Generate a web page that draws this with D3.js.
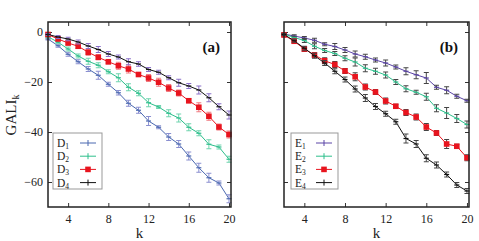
<!DOCTYPE html>
<html>
<head>
<meta charset="utf-8">
<script src="https://cdn.jsdelivr.net/npm/d3@7"></script>
<style>
body { margin: 0; background: #fff; }
text { font-family: "Liberation Serif", "DejaVu Serif", serif; }
</style>
</head>
<body>
<svg id="chart" width="479" height="241"></svg>
<script>
const kValues = d3.range(2, 21)

const D1 = [-2.8, -5.5, -8.9, -11.9, -14.8, -17.3, -20.9, -24.3, -28.5, -31.3, -35.6, -38.1, -42, -44.8, -49.6, -54.3, -58.3, -60.4, -66.7]
const D2 = [-1.9, -4.1, -6.8, -9.6, -11.7, -13.3, -15.9, -18.3, -22.1, -24.5, -28.3, -30, -32.5, -34.4, -38.1, -40.5, -44.9, -46, -50.9]
const D3 = [-1, -2.8, -4.4, -5.7, -8.1, -10.1, -11.9, -13.5, -14.8, -17, -18.4, -20.1, -22.4, -24.4, -27.5, -30.1, -33.7, -38, -41]
const D4 = [-1, -2, -2.8, -4, -5.6, -7, -8.8, -10, -11.9, -12.8, -15, -16.1, -18.3, -20.3, -21.6, -23.2, -26.3, -29.9, -33.2]

const D1err = [0.4, 0.6, 0.8, 0.8, 1, 1.6, 0.8, 0.9, 1.2, 1.2, 1.8, 0.6, 1.4, 1.4, 1.6, 1.8, 1.8, 0.8, 1.6]
const D2err = [0.4, 0.6, 0.8, 0.8, 1.2, 1, 0.8, 1.6, 1.4, 1, 1.6, 0.6, 1.4, 1.6, 1.4, 1, 1.8, 0.8, 1.2]
const D3err = [0.5, 0.6, 0.8, 0.9, 1.2, 1, 0.9, 1.4, 1.6, 0.8, 1.4, 1.6, 1.4, 1.2, 0.8, 1.8, 1.6, 1.2, 1.4]
const D4err = [0.4, 0.6, 0.7, 0.8, 1, 1.2, 1, 0.8, 1.2, 0.9, 0.8, 0.8, 0.8, 1.4, 1, 1.6, 1.6, 1.2, 1.6]

const E1 = [-0.8, -1.6, -2.4, -3.3, -4.9, -5.8, -7.2, -8.8, -9.9, -11.2, -12.4, -14, -15.7, -17.1, -18.4, -22.1, -23.3, -25.7, -27.5]
const E2 = [-0.8, -2.2, -3.4, -5.7, -7.4, -8.6, -10.5, -12, -14.5, -15.7, -17.2, -20, -22.7, -24.1, -25.9, -30.5, -32.4, -34.6, -37]
const E3 = [-1.2, -3.7, -6.8, -9.2, -11.5, -13, -15.6, -17.9, -22, -24, -27.6, -29.7, -32.2, -34, -38, -40.4, -44.8, -45.7, -50.3]
const E4 = [-1, -3.5, -6.5, -9.5, -12.4, -15.7, -19, -22.8, -26.4, -29.8, -32.7, -35.9, -42.6, -44.8, -50.5, -53.2, -57, -61.2, -63.6]

const E1err = [0.4, 0.5, 0.6, 0.8, 0.6, 1.2, 1, 1.2, 1, 0.8, 1.2, 0.8, 1.4, 1.6, 2.2, 0.8, 1.4, 0.8, 0.6]
const E2err = [0.4, 0.5, 0.8, 1, 0.8, 0.8, 1, 1.6, 1.4, 1.2, 1.2, 1, 1.2, 0.8, 1.4, 1.4, 2.2, 1.6, 1.4]
const E3err = [0.5, 0.6, 1, 0.9, 1.2, 1.2, 1, 1.6, 1.2, 1, 1.2, 0.8, 1.2, 1.2, 1.4, 1, 1.8, 0.8, 1.2]
const E4err = [0.4, 0.6, 0.8, 1, 1, 1, 1, 1.2, 1.4, 1.2, 1, 1, 1.8, 1.4, 1.4, 1.2, 1, 1, 1]

const xTicks = [4, 8, 12, 16, 20]
const yTicks = [0, -20, -40, -60]

const svg = d3.select("#chart")

const renderPanel = (panel) => {
    const xScale = d3.scaleLinear()
        .domain([2, 20.2])
        .range([panel.left, panel.right])

    const yScale = d3.scaleLinear()
        .domain([-70, 4])
        .range([207, 22])

    const g = svg.append("g")

    // inward ticks on all four sides
    const tick = 4
    g.append("g").attr("transform", `translate(0,${yScale.range()[0]})`)
        .call(d3.axisBottom(xScale).tickValues(xTicks).tickSize(-tick).tickPadding(7).tickFormat(d3.format("d")))
        .call(a => a.select(".domain").remove())
    g.append("g").attr("transform", `translate(0,${yScale.range()[1]})`)
        .call(d3.axisTop(xScale).tickValues(xTicks).tickSize(-tick).tickFormat(""))
        .call(a => a.select(".domain").remove())
    g.append("g").attr("transform", `translate(${panel.left},0)`)
        .call(d3.axisLeft(yScale).tickValues(yTicks).tickSize(-tick).tickPadding(5)
            .tickFormat(panel.yLabels ? d3.format("d") : ""))
        .call(a => a.select(".domain").remove())
    g.append("g").attr("transform", `translate(${panel.right},0)`)
        .call(d3.axisRight(yScale).tickValues(yTicks).tickSize(-tick).tickFormat(""))
        .call(a => a.select(".domain").remove())

    g.selectAll(".tick line").attr("stroke", "#333")
    g.selectAll(".tick text")
        .attr("font-size", 12)
        .attr("fill", "#222")

    const line = d3.line()
        .x((d, i) => xScale(kValues[i]))
        .y(d => yScale(d))

    panel.series.forEach(s => {
        const sg = g.append("g")
        sg.append("path")
            .attr("d", line(s.values))
            .attr("fill", "none")
            .attr("stroke", s.color)
            .attr("stroke-width", 1)

        const bars = sg.selectAll(".err")
            .data(s.values.map((v, i) => ({ k: kValues[i], v: v, e: s.err[i] })))
            .enter()
            .append("g")
        bars.append("line")
            .attr("x1", d => xScale(d.k)).attr("x2", d => xScale(d.k))
            .attr("y1", d => yScale(d.v - d.e)).attr("y2", d => yScale(d.v + d.e))
            .attr("stroke", s.errColor).attr("stroke-width", 1)
        bars.append("line")
            .attr("x1", d => xScale(d.k) - 2.5).attr("x2", d => xScale(d.k) + 2.5)
            .attr("y1", d => yScale(d.v - d.e)).attr("y2", d => yScale(d.v - d.e))
            .attr("stroke", s.errColor).attr("stroke-width", 1)
        bars.append("line")
            .attr("x1", d => xScale(d.k) - 2.5).attr("x2", d => xScale(d.k) + 2.5)
            .attr("y1", d => yScale(d.v + d.e)).attr("y2", d => yScale(d.v + d.e))
            .attr("stroke", s.errColor).attr("stroke-width", 1)

        if (s.square) {
            bars.append("rect")
                .attr("x", d => xScale(d.k) - 2.8)
                .attr("y", d => yScale(d.v) - 2.8)
                .attr("width", 5.6).attr("height", 5.6)
                .attr("fill", s.color)
        } else {
            bars.append("line")
                .attr("x1", d => xScale(d.k) - 2.5).attr("x2", d => xScale(d.k) + 2.5)
                .attr("y1", d => yScale(d.v)).attr("y2", d => yScale(d.v))
                .attr("stroke", s.color).attr("stroke-width", 1.2)
        }
    })

    // frame
    g.append("rect")
        .attr("x", panel.left).attr("y", yScale.range()[1])
        .attr("width", panel.right - panel.left)
        .attr("height", yScale.range()[0] - yScale.range()[1])
        .attr("fill", "none")
        .attr("stroke", "#222")
        .attr("stroke-width", 1.5)

    // legend
    const lg = g.append("g").attr("transform", `translate(${panel.legendX},133)`)
    lg.append("rect")
        .attr("width", panel.legendW).attr("height", 56)
        .attr("fill", "#fff").attr("stroke", "#999").attr("stroke-width", 1)
    panel.series.forEach((s, i) => {
        const yy = 10 + i * 13.2
        const t = lg.append("text")
            .attr("x", 4).attr("y", yy + 4)
            .attr("font-size", 11.5).attr("fill", "#222")
        t.append("tspan").text(s.name[0])
        t.append("tspan").attr("font-size", 7.5).attr("dy", 2).text(s.name.slice(1))
        const x0 = panel.legendW - 22, x1 = panel.legendW - 6
        lg.append("line")
            .attr("x1", x0).attr("x2", x1).attr("y1", yy).attr("y2", yy)
            .attr("stroke", s.color).attr("stroke-width", 1)
        const xm = (x0 + x1) / 2
        if (s.square) {
            lg.append("rect").attr("x", xm - 2.8).attr("y", yy - 2.8)
                .attr("width", 5.6).attr("height", 5.6).attr("fill", s.color)
        } else {
            lg.append("line").attr("x1", xm).attr("x2", xm)
                .attr("y1", yy - 3).attr("y2", yy + 3)
                .attr("stroke", s.color).attr("stroke-width", 1)
        }
    })

    // panel label
    g.append("text")
        .attr("x", panel.right - 11).attr("y", 52)
        .attr("text-anchor", "end")
        .attr("font-size", 15).attr("font-weight", "bold").attr("fill", "#111")
        .text(panel.label)

    // x axis label
    g.append("text")
        .attr("x", (panel.left + panel.right) / 2).attr("y", 238)
        .attr("text-anchor", "middle")
        .attr("font-size", 15).attr("fill", "#222")
        .text("k")
}

renderPanel({
    left: 48, right: 231, yLabels: true, label: "(a)", legendX: 53, legendW: 49,
    series: [
        { name: "D1", values: D1, err: D1err, color: "#4a68b0", errColor: "#8a8fd0" },
        { name: "D2", values: D2, err: D2err, color: "#2dbf8c", errColor: "#6fd4ae" },
        { name: "D3", values: D3, err: D3err, color: "#e8141e", errColor: "#f07a80", square: true },
        { name: "D4", values: D4, err: D4err, color: "#111111", errColor: "#8a70c8" }
    ]
})

renderPanel({
    left: 284, right: 469, yLabels: false, label: "(b)", legendX: 291, legendW: 47,
    series: [
        { name: "E1", values: E1, err: E1err, color: "#5a44a6", errColor: "#444" },
        { name: "E2", values: E2, err: E2err, color: "#2dbf8c", errColor: "#444" },
        { name: "E3", values: E3, err: E3err, color: "#e8141e", errColor: "#444", square: true },
        { name: "E4", values: E4, err: E4err, color: "#111111", errColor: "#444" }
    ]
})

// y axis label
const yl = svg.append("text")
    .attr("transform", "translate(16,115) rotate(-90)")
    .attr("text-anchor", "middle")
    .attr("font-size", 15).attr("fill", "#222")
yl.append("tspan").text("GALI")
yl.append("tspan").attr("font-size", 10).attr("dy", 3).text("k")
</script>
</body>
</html>
